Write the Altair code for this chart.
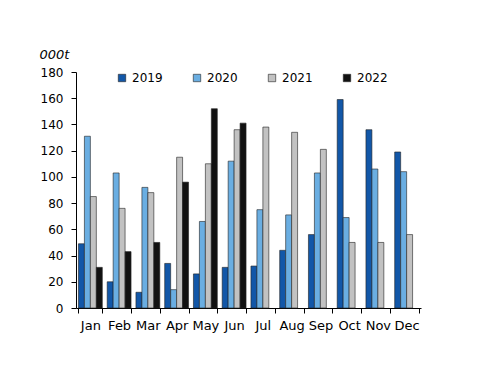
import altair as alt
import pandas as pd

months = ["Jan", "Feb", "Mar", "Apr", "May", "Jun", "Jul", "Aug", "Sep", "Oct", "Nov", "Dec"]
years = ["2019", "2020", "2021", "2022"]
v2019 = [49, 20, 12, 34, 26, 31, 32, 44, 56, 159, 136, 119]
v2020 = [131, 103, 92, 14, 66, 112, 75, 71, 103, 69, 106, 104]
v2021 = [85, 76, 88, 115, 110, 136, 138, 134, 121, 50, 50, 56]
v2022 = [31, 43, 50, 96, 152, 141, None, None, None, None, None, None]
colors = ["#1257a8", "#6aaee2", "#c2c2c2", "#111111"]

rows = []
for y, vals in zip(years, [v2019, v2020, v2021, v2022]):
    for m, v in zip(months, vals):
        if v is not None:
            rows.append({"month": m, "year": y, "value": v})
df = pd.DataFrame(rows)

font = "DejaVu Sans"

chart = alt.Chart(df).mark_bar(stroke="#222222", strokeWidth=0.6).encode(
    x=alt.X("month:N", sort=months, title=None,
            scale=alt.Scale(paddingInner=0.17, paddingOuter=0.085),
            axis=alt.Axis(labelAngle=0, tickBand="extent", labelFontSize=13,
                          labelColor="black", domainColor="black", tickColor="black",
                          tickSize=5, labelPadding=6, labelFont=font)),
    xOffset=alt.XOffset("year:N", sort=years, scale=alt.Scale(paddingInner=0, paddingOuter=0)),
    y=alt.Y("value:Q", scale=alt.Scale(domain=[0, 180]),
            axis=alt.Axis(values=list(range(0, 181, 20)), grid=False, title="000t",
                          titleAngle=0, titleFontStyle="italic", titleFontWeight="normal",
                          titleFontSize=13, titleFont=font, titleAlign="left", titleBaseline="bottom",
                          titleX=-37, titleY=-11, labelFontSize=12, labelFont=font,
                          labelColor="black", domainColor="black", tickColor="black",
                          tickSize=5, labelPadding=8)),
    color=alt.Color("year:N", sort=years, scale=alt.Scale(domain=years, range=colors),
                    legend=alt.Legend(title=None, orient="none", direction="horizontal",
                                      legendX=40, legendY=0, symbolType="square",
                                      symbolSize=55, symbolStrokeColor="#222222",
                                      symbolStrokeWidth=0.6, labelFontSize=12, labelFont=font,
                                      columnPadding=28, labelOffset=4, padding=0)),
).properties(
    width=345, height=236,
    autosize=alt.AutoSizeParams(type="none"),
    padding={"left": 68, "top": 64, "right": 71, "bottom": 60},
).configure_view(stroke=None).configure_axis(grid=False)

chart.save("out.html", embed_options={"renderer": "svg", "actions": False})
